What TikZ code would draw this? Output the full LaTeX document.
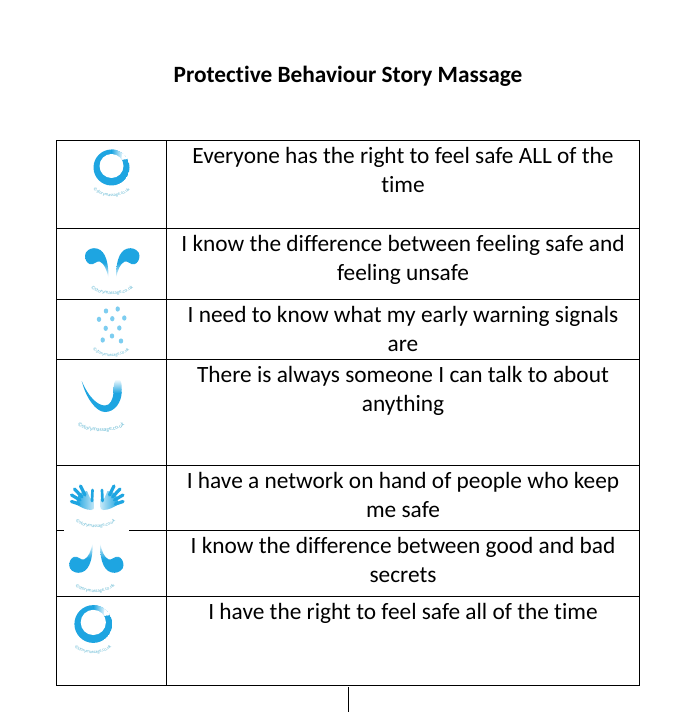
\documentclass[tikz,border=0pt]{standalone}
\usepackage{fontspec}
\setmainfont[Ligatures=NoCommon]{Carlito}
\usetikzlibrary{decorations.text}
\definecolor{iconblue}{RGB}{30,165,225}
\definecolor{dotblue}{RGB}{125,205,240}
\definecolor{capblue}{RGB}{100,185,212}
% one drop, tail tip at the origin
\newcommand{\dropshape}{(0,0) .. controls (-2,-8) and (-4,-14) .. (-8.5,-16)
  .. controls (-12,-17.5) and (-14,-12.5) .. (-18.5,-13.5)
  .. controls (-21.5,-14.5) and (-23.5,-18) .. (-23.5,-22)
  .. controls (-23.5,-27) and (-18,-29.5) .. (-14.5,-29.5)
  .. controls (-5,-29.5) and (0,-20) .. (0,0) -- cycle}
\newcommand{\storycaption}[4]{% centre x, y, half width, size
  \path[postaction={decorate},decoration={text along path,text align=center,
    text={|\fontsize{#4}{#4}\selectfont\color{capblue}|©storymassage.co.uk}}]
    (#1-#3,#2) .. controls (#1-#3/2,#2+10) and (#1+#3/2,#2+10) .. (#1+#3,#2);}
\tikzset{
  ringmark/.pic={
    \begin{scope}
      \clip (0,0) circle (18);
      \fill[iconblue] (0,0) circle (18);
      \shade[left color=iconblue,right color=white] (0,-20) rectangle (12,-8);
      \fill[white] (12,-22) -- (24,-22) -- (24,-10) -- (13,-8) -- (10,-9) -- cycle;
    \end{scope}
    \fill[white] (0,-1.5) circle (12);
  },
  handmark/.pic={
    \shade[#1] (-21,-6) .. controls (-20,-11) and (-19,-15) .. (-17,-17)
      -- (-10,-19) -- (-7,-12) -- (-2.5,-11) -- (-2.5,-4) .. controls (-2.5,-1) and (-4,0) .. (-6,0)
      .. controls (-11,0) and (-17,-3) .. (-21,-6) -- cycle;
    \foreach \tipx/\tipy/\basex/\basey in {-16.5/-24/-12/-15, -22.5/-21/-15/-13, -25.5/-15/-17/-10, -25.5/-8.5/-18/-6}
      \draw[iconblue,line width=2.4pt,line cap=round] (\basex,\basey) -- (\tipx,\tipy);
    \draw[iconblue,line width=2pt,line cap=round] (-5,-9) -- (-4.5,-20);
  }
}
\begin{document}
\begin{tikzpicture}[x=0.75pt,y=-0.75pt]
  \tikzstyle{rowtext}=[anchor=north,align=center,inner sep=0pt,font=\fontsize{17.5}{21.75}\selectfont]
  \tikzstyle{rule}=[line width=0.8pt,black]
  \tikzstyle{dropdown}=[top color=iconblue,bottom color=white,middle color=iconblue]
  \tikzstyle{dropup}=[top color=white,bottom color=iconblue,middle color=iconblue]
  \useasboundingbox[fill=white] (0,0) rectangle (698,712);

  \node[inner sep=0pt,font=\fontsize{17.5}{19}\selectfont\bfseries] (title) at (348,76) {Protective Behaviour Story Massage};

  % table
  \draw[rule] (56.5,140.5) rectangle (639.5,685.5);
  \draw[rule] (166.5,140.5) -- (166.5,685.5);
  \foreach \rowy in {228.5,299.5,359.5,465.5,596.5}
    \draw[rule] (56.5,\rowy) -- (639.5,\rowy);
  \draw[rule] (56.5,530.5) -- (64,530.5);
  \draw[rule] (129,530.5) -- (639.5,530.5);
  \draw[rule] (348.5,687) -- (348.5,712);

  \node[rowtext] (row_1) at (403,147) {Everyone has the right to feel safe ALL of the\\time};
  \node[rowtext] (row_2) at (403,235) {I know the difference between feeling safe and\\feeling unsafe};
  \node[rowtext] (row_3) at (403,306) {I need to know what my early warning signals\\are};
  \node[rowtext] (row_4) at (403,366) {There is always someone I can talk to about\\anything};
  \node[rowtext] (row_5) at (403,472) {I have a network on hand of people who keep\\me safe};
  \node[rowtext] (row_6) at (403,537) {I know the difference between good and bad\\secrets};
  \node[rowtext] (row_7) at (403,603) {I have the right to feel safe all of the time};

  % icons
  \pic at (111.5,167.5) {ringmark};
  \storycaption{111.5}{189}{19}{3.4}

  \shade[dropdown,shift={(108.5,277.7)}] \dropshape;
  \shade[dropdown,shift={(116,277.7)},xscale=-1] \dropshape;
  \storycaption{112}{287}{23}{3.8}

  \foreach \dotx/\doty in {106/311,117.7/309,99/319.3,112.3/318.7,124.3/318,105.7/328.3,119.3/328,102.7/340,112/336,121/341}
    \fill[dotblue] (\dotx,\doty) ellipse [x radius=2.2,y radius=2.6];
  \storycaption{111}{349}{19}{3.4}

  \fill[iconblue] (81.7,381) .. controls (86,398) and (96,412) .. (105,412)
    .. controls (115,412) and (121.5,402) .. (121.7,392) -- (113.5,392)
    .. controls (113,400) and (110,405.5) .. (105,405.5)
    .. controls (97,405.5) and (88,396) .. (81.7,381) -- cycle;
  \shade[top color=white,bottom color=iconblue] (113.5,393) .. controls (113.5,385) and (114,379) .. (118,379)
    .. controls (121,379) and (122,383) .. (121.7,393) -- cycle;
  \storycaption{101}{424}{26}{4.2}

  \pic at (97,510) {handmark={left color=iconblue,right color=iconblue!25}};
  \pic[xscale=-1] at (97.5,510) {handmark={right color=iconblue,left color=iconblue!25}};
  \storycaption{95.5}{520}{22}{3.6}

  \shade[dropup,shift={(92.7,543.3)},yscale=-1] \dropshape;
  \shade[dropup,shift={(100,543.3)},xscale=-1,yscale=-1] \dropshape;
  \storycaption{95}{585}{21}{3.6}

  \pic[scale=1.05] at (93.3,624) {ringmark};
  \storycaption{93}{646}{20}{3.4}
\end{tikzpicture}
\end{document}
